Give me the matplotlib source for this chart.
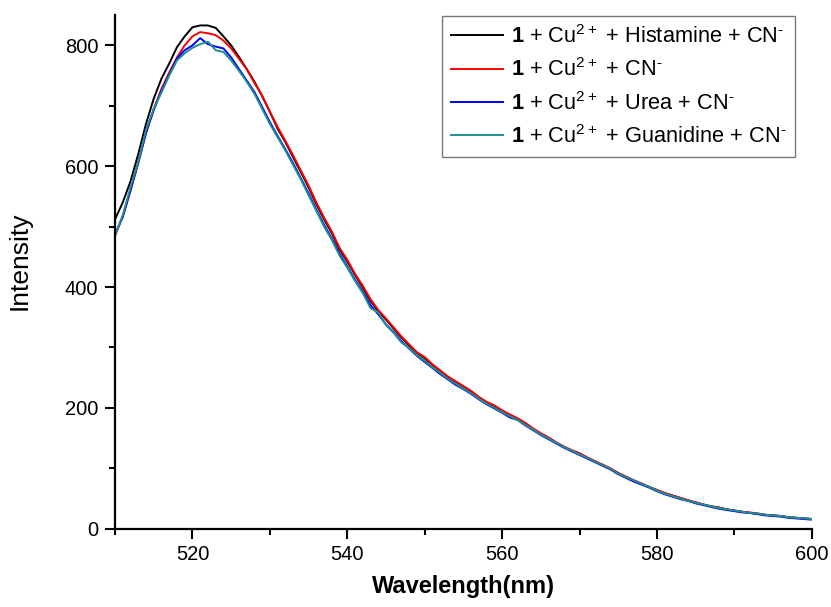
import numpy as np
import matplotlib
matplotlib.use('Agg')
import matplotlib.pyplot as plt
from matplotlib.ticker import MultipleLocator

plt.rcParams['font.family'] = ['Liberation Sans', 'DejaVu Sans']
plt.rcParams['mathtext.fontset'] = 'custom'
plt.rcParams['mathtext.rm'] = 'Liberation Sans'
plt.rcParams['mathtext.bf'] = 'Liberation Sans:bold'

# emission spectra, 1 nm steps from 510 to 600 nm
wavelength = np.arange(510, 601)

histamine = [512, 540, 575, 620, 670, 712, 745, 770, 797, 815,
             830, 833, 833, 829, 815, 800, 781, 761, 740, 716,
             690, 662, 640, 615, 590, 565, 537, 512, 489, 462,
             442, 420, 399, 377, 360, 346, 331, 316, 303, 291,
             282, 271, 261, 251, 243, 235, 227, 217, 209, 202,
             195, 188, 181, 174, 165, 157, 150, 142, 135, 129,
             124, 117, 111, 105, 99, 92, 86, 80, 74, 69,
             64, 59, 55, 51, 47, 43, 40, 37, 35, 32,
             30, 28, 26, 25, 23, 22, 21, 19, 18, 17, 16]

cn_only = [485, 517, 560, 607, 655, 695, 728, 755, 780, 800,
           815, 822, 820, 817, 808, 795, 778, 761, 738, 717,
           690, 665, 642, 618, 593, 568, 540, 515, 492, 465,
           445, 422, 402, 380, 362, 348, 333, 318, 305, 292,
           284, 272, 262, 252, 244, 236, 228, 218, 210, 204,
           196, 189, 183, 175, 166, 158, 151, 143, 136, 130,
           125, 118, 112, 106, 100, 92, 86, 80, 75, 69,
           64, 59, 55, 51, 47, 44, 40, 37, 35, 32,
           30, 28, 27, 25, 23, 22, 21, 19, 18, 17, 16]

urea = [487, 516, 560, 605, 655, 693, 725, 752, 778, 792,
        800, 812, 802, 798, 795, 780, 761, 742, 723, 698,
        673, 650, 628, 605, 580, 555, 528, 503, 480, 455,
        434, 412, 392, 370, 355, 338, 325, 310, 298, 286,
        276, 266, 256, 247, 238, 231, 223, 214, 206, 199,
        192, 184, 180, 171, 163, 155, 148, 141, 134, 128,
        122, 116, 110, 104, 98, 90, 84, 78, 73, 68,
        62, 57, 53, 49, 46, 42, 39, 36, 33, 31,
        29, 27, 26, 24, 22, 21, 20, 18, 17, 16, 15]

guanidine = [485, 519, 565, 607, 660, 695, 722, 750, 775, 787,
             796, 802, 806, 792, 789, 775, 758, 740, 720, 695,
             670, 648, 626, 602, 578, 552, 526, 500, 478, 452,
             432, 410, 390, 365, 358, 337, 324, 308, 299, 287,
             278, 267, 258, 248, 240, 232, 224, 215, 207, 200,
             193, 186, 180, 172, 164, 156, 149, 142, 135, 129,
             123, 117, 111, 105, 99, 91, 85, 80, 74, 69,
             63, 58, 54, 50, 46, 43, 40, 37, 34, 32,
             30, 28, 26, 25, 23, 22, 21, 19, 18, 17, 16]

labels = ['$\\mathbf{1}$ + Cu$^{2+}$ + Histamine + CN$^{\u2010}$',
          '$\\mathbf{1}$ + Cu$^{2+}$ + CN$^{\u2010}$',
          '$\\mathbf{1}$ + Cu$^{2+}$ + Urea + CN$^{\u2010}$',
          '$\\mathbf{1}$ + Cu$^{2+}$ + Guanidine + CN$^{\u2010}$']
colors = ['black', '#ff0000', '#0000ff', '#1f8f8f']

fig = plt.figure(figsize=(8.31, 6.07), dpi=100)
ax = fig.add_axes([0.1384, 0.129, 0.8386, 0.846])

for y, lab, c in zip([histamine, cn_only, urea, guanidine], labels, colors):
    ax.plot(wavelength, y, color=c, lw=1.4, label=lab)

ax.set_xlim(510, 600)
ax.set_ylim(0, 850)
ax.xaxis.set_major_locator(MultipleLocator(20))
ax.xaxis.set_minor_locator(MultipleLocator(10))
ax.yaxis.set_major_locator(MultipleLocator(200))
ax.yaxis.set_minor_locator(MultipleLocator(100))

for s in ['top', 'right']:
    ax.spines[s].set_visible(False)
for s in ['left', 'bottom']:
    ax.spines[s].set_linewidth(1.6)

ax.tick_params(which='major', direction='out', length=7, width=1.5, labelsize=14.5, pad=5)
ax.tick_params(which='minor', direction='out', length=4, width=1.5)

ax.set_xlabel('Wavelength(nm)', fontsize=17, fontweight='bold', labelpad=8)
ax.set_ylabel('Intensity', fontsize=19)
ax.yaxis.set_label_coords(-0.119, 0.521)

leg = ax.legend(loc='upper right', bbox_to_anchor=(0.976, 0.998), fontsize=15.7,
                handlelength=2.4, handletextpad=0.35, borderpad=0.4,
                labelspacing=0.48, borderaxespad=0.0, fancybox=False, framealpha=1)
leg.get_frame().set_edgecolor('#777777')
leg.get_frame().set_linewidth(1.0)

fig.savefig('out.png', dpi=100)
